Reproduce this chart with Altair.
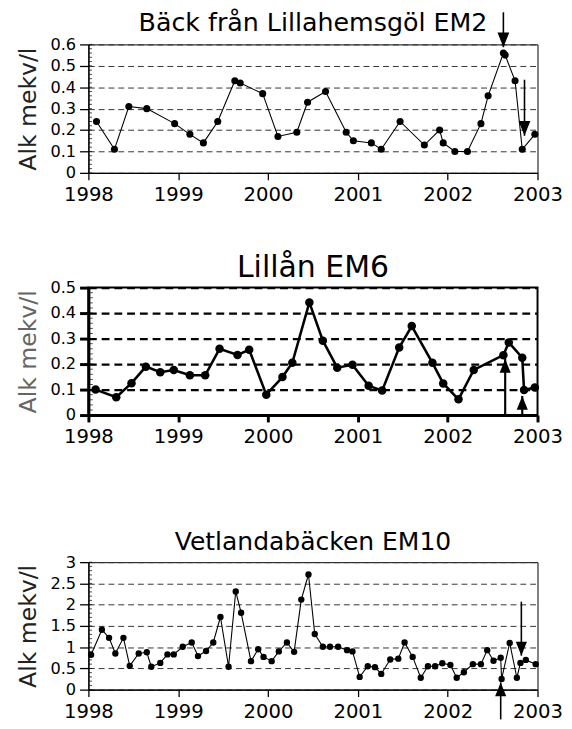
import altair as alt
import pandas as pd

FONT = "DejaVu Sans"

# ---------------- data ----------------
years_ticks = [1998, 1999, 2000, 2001, 2002, 2003]

# Panel 1: Bäck från Lillahemsgöl EM2
p1_year = [1998.09, 1998.29, 1998.45, 1998.65, 1998.96,
           1999.13, 1999.28, 1999.44, 1999.63, 1999.69, 1999.94,
           2000.11, 2000.32, 2000.44, 2000.64, 2000.87, 2000.95,
           2001.15, 2001.26, 2001.47, 2001.74, 2001.91, 2001.95,
           2002.08, 2002.22, 2002.37, 2002.45, 2002.62, 2002.64, 2002.75, 2002.83, 2002.97]
p1_alk = [0.24, 0.11, 0.31, 0.30, 0.23,
          0.18, 0.14, 0.24, 0.43, 0.42, 0.37,
          0.17, 0.19, 0.33, 0.38, 0.19, 0.15,
          0.14, 0.11, 0.24, 0.13, 0.20, 0.14,
          0.10, 0.10, 0.23, 0.36, 0.56, 0.55, 0.43, 0.11, 0.18]
p1_ticks = [0, 0.1, 0.2, 0.3, 0.4, 0.5, 0.6]
p1_arrow_x = [2002.62, 2002.855]
p1_arrow_from = [0.75, 0.435]
p1_arrow_to = [0.587, 0.173]

# Panel 2: Lillån EM6
p2_year = [1998.08, 1998.31, 1998.48, 1998.64, 1998.80, 1998.95,
           1999.13, 1999.30, 1999.46, 1999.66, 1999.79, 1999.98,
           2000.16, 2000.27, 2000.46, 2000.61, 2000.77, 2000.94,
           2001.12, 2001.27, 2001.46, 2001.60, 2001.83, 2001.95,
           2002.12, 2002.29, 2002.62, 2002.68, 2002.83, 2002.85, 2002.97]
p2_alk = [0.10, 0.07, 0.125, 0.19, 0.168, 0.177,
          0.156, 0.156, 0.26, 0.236, 0.256, 0.08,
          0.149, 0.205, 0.442, 0.292, 0.186, 0.197,
          0.115, 0.096, 0.265, 0.349, 0.205, 0.124,
          0.062, 0.177, 0.235, 0.285, 0.225, 0.098, 0.108]
p2_ticks = [0, 0.1, 0.2, 0.3, 0.4, 0.5]
p2_arrow_x = [2002.64, 2002.83]
p2_arrow_from = [0.0, 0.0]
p2_arrow_to = [0.22, 0.075]

# Panel 3: Vetlandabäcken EM10
p3_year = [1998.03, 1998.15, 1998.23, 1998.30, 1998.39, 1998.46, 1998.56, 1998.65, 1998.70, 1998.80, 1998.88, 1998.95,
           1999.05, 1999.15, 1999.22, 1999.31, 1999.39, 1999.47, 1999.56, 1999.64, 1999.70, 1999.81, 1999.89, 1999.95,
           2000.04, 2000.12, 2000.21, 2000.29, 2000.37, 2000.45, 2000.52, 2000.61, 2000.69, 2000.78, 2000.88, 2000.94,
           2001.02, 2001.11, 2001.19, 2001.26, 2001.36, 2001.45, 2001.52, 2001.61, 2001.70, 2001.78, 2001.86, 2001.94,
           2002.03, 2002.10, 2002.18, 2002.28, 2002.37, 2002.44, 2002.51, 2002.59, 2002.60, 2002.69, 2002.77, 2002.81,
           2002.87, 2002.98]
p3_alk = [0.82, 1.41, 1.22, 0.85, 1.22, 0.56, 0.85, 0.88, 0.54, 0.63, 0.83, 0.83,
          1.01, 1.11, 0.79, 0.91, 1.11, 1.71, 0.54, 2.31, 1.81, 0.67, 0.95, 0.77,
          0.67, 0.90, 1.11, 0.89, 2.12, 2.71, 1.31, 1.01, 1.01, 1.01, 0.93, 0.90,
          0.30, 0.55, 0.53, 0.37, 0.71, 0.73, 1.11, 0.77, 0.28, 0.55, 0.55, 0.62,
          0.58, 0.28, 0.41, 0.60, 0.60, 0.93, 0.68, 0.75, 0.25, 1.10, 0.28, 0.63,
          0.70, 0.60]
p3_ticks = [0, 0.5, 1, 1.5, 2, 2.5, 3]
p3_arrow_x = [2002.59, 2002.82]
p3_arrow_from = [-0.7, 2.07]
p3_arrow_to = [0.17, 0.80]

DOWN_HEAD = "M0,0L-0.8,-2L0.8,-2Z"
UP_HEAD = "M0,0L-0.8,2L0.8,2Z"


def panel(title, years, vals, ticks, minor_step, ax_x, ax_from, ax_to, s):
    ymax = ticks[-1]
    df = pd.DataFrame({"year": years, "alk": vals})
    adf = pd.DataFrame({"year": ax_x, "from": ax_from, "to": ax_to})
    adf["dir"] = ["down" if f > t else "up" for f, t in zip(ax_from, ax_to)]
    minor_vals = [round(i * minor_step, 3) for i in range(int(round(ymax / minor_step)) + 1)]
    mdf = pd.DataFrame({"alk": minor_vals})
    xscale = alt.Scale(domain=[1998, 2003], nice=False, zero=False)
    yscale = alt.Scale(domain=[0, ymax], nice=False, zero=False)
    x = alt.X("year:Q", scale=xscale, axis=alt.Axis(
        values=years_ticks, format="d", title=None, grid=False, labelFlush=False,
        tickSize=7, tickWidth=s["axw"], tickColor="black",
        domainColor="black", domainWidth=s["axw"],
        labelFont=FONT, labelFontSize=20, labelColor="black", labelPadding=5))
    y = alt.Y("alk:Q", scale=yscale, axis=alt.Axis(
        values=ticks, title="Alk mekv/l", labelExpr="toString(datum.value)",
        titleFont=FONT, titleFontSize=24, titleFontWeight="normal", titleColor=s["tcolor"],
        titlePadding=10,
        grid=True, gridDash=s["dash"], gridColor=s["gcolor"], gridWidth=s["gw"],
        tickSize=9, tickWidth=s["axw"], tickColor="black",
        domainColor="black", domainWidth=s["axw"],
        labelFont=FONT, labelFontSize=16.5, labelColor="black", labelPadding=4))
    yn = lambda f: alt.Y(f, scale=yscale, axis=None)
    line = alt.Chart(df).mark_line(color="black", strokeWidth=s["lw"]).encode(x=x, y=y)
    minor = alt.Chart(mdf).mark_tick(orient="horizontal", color="black", thickness=1,
                                     size=s["mt"]).encode(
        x=alt.value(s["mt"] / 2 + s["axw"] / 2), y=yn("alk:Q"))
    pts = alt.Chart(df).mark_point(filled=True, color="black", opacity=1, size=s["ps"]).encode(
        x=x, y=yn("alk:Q"))
    shaft = alt.Chart(adf).mark_rule(color="black", strokeWidth=s["aw"]).encode(
        x=x, y=yn("from:Q"), y2="to:Q")
    down = alt.Chart(adf).transform_filter("datum.dir == 'down'").mark_point(
        shape=DOWN_HEAD, filled=True, color="black", opacity=1, size=s["hs"]).encode(
        x=x, y=yn("to:Q"))
    up = alt.Chart(adf).transform_filter("datum.dir == 'up'").mark_point(
        shape=UP_HEAD, filled=True, color="black", opacity=1, size=s["hs"]).encode(
        x=x, y=yn("to:Q"))
    ch = alt.layer(line, minor, pts, shaft, down, up).resolve_axis(y="independent").properties(
        width=458, height=s["h"],
        title=alt.TitleParams(title, font=FONT, fontSize=s["tfs"], fontWeight="normal",
                              color="black", anchor="middle", offset=s["toff"], frame="group"),
        view=alt.ViewBackground(stroke="black", strokeWidth=s["vw"]))
    return ch


s1 = dict(lw=1.1, ps=52, aw=1.6, hs=225, axw=1.3, vw=1, gw=1, gcolor="#333", dash=[6, 4],
          tcolor="#222", tfs=25.8, toff=-26, h=131, mt=3)
s2 = dict(lw=2.6, ps=75, aw=2.2, hs=200, axw=3, vw=2, gw=2.2, gcolor="black", dash=[8, 5],
          tcolor="#666", tfs=30.5, toff=-4, h=130, mt=3)
s3 = dict(lw=1.1, ps=42, aw=1.6, hs=200, axw=1.3, vw=1, gw=1, gcolor="#333", dash=[6, 4],
          tcolor="#222", tfs=25.5, toff=-1, h=130, mt=3)

c1 = panel("Bäck från Lillahemsgöl EM2", p1_year, p1_alk, p1_ticks, 0.02,
           p1_arrow_x, p1_arrow_from, p1_arrow_to, s1)
c2 = panel("Lillån EM6", p2_year, p2_alk, p2_ticks, 0.02,
           p2_arrow_x, p2_arrow_from, p2_arrow_to, s2)
c3 = panel("Vetlandabäcken EM10", p3_year, p3_alk, p3_ticks, 0.1,
           p3_arrow_x, p3_arrow_from, p3_arrow_to, s3)

top = alt.vconcat(c1, c2, spacing=48)
chart = alt.vconcat(top, c3, spacing=84).properties(
    padding={"left": 7, "top": -5, "right": 0, "bottom": 0}
).configure(background="white")

chart.save("out.html", embed_options={"renderer": "svg", "actions": False})
